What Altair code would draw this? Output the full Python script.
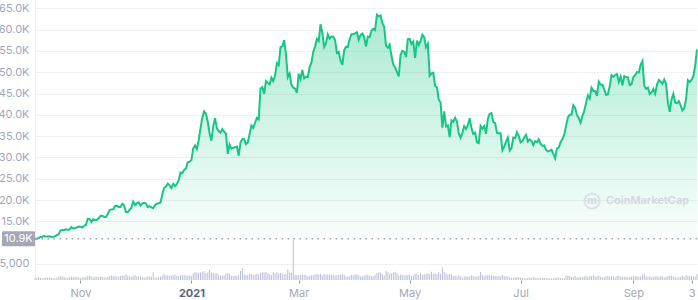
import altair as alt
import pandas as pd

# ---------------- data (daily, starting 2020-10-07) ----------------
start_date = "2020-10-07"

price_oct20 = [10900, 10930, 11060, 11300, 11380, 11560, 11430, 11430, 11500, 11320,
               11360, 11480, 11740, 11920, 12820, 12970, 12930, 13110, 13030, 13080,
               13650, 13270, 13440, 13550, 13780]
price_nov20 = [13740, 13550, 13950, 14130, 15580, 15570, 14830, 15480, 15330, 15290,
               15700, 16280, 16320, 16070, 15960, 16720, 17650, 17800, 17820, 18620,
               18640, 18370, 18360, 19110, 18730, 17150, 17110, 17720, 18180, 19630]
price_dec20 = [18800, 19200, 19450, 18700, 19150, 19350, 19190, 18320, 18550, 18260,
               18060, 18800, 19140, 19250, 19420, 21310, 22810, 23140, 23870, 23480,
               22800, 23780, 23240, 23740, 24660, 26440, 26270, 27080, 27360, 28840, 29000]
price_jan21 = [29370, 32130, 32780, 31970, 33990, 36820, 39370, 40800, 40250, 38360,
               35570, 33920, 37320, 39190, 36830, 36180, 35790, 36630, 36070, 35550,
               30830, 33010, 32070, 32290, 32370, 32570, 30430, 33470, 34320, 34270, 33110]
price_feb21 = [33520, 35510, 37470, 36930, 38140, 39270, 38900, 46200, 46480, 44920,
               47910, 47500, 47110, 48720, 47940, 49200, 52150, 51680, 55890, 56100,
               57540, 54210, 48820, 49710, 47090, 46340, 46190, 45140]
price_mar21 = [49630, 48380, 50540, 48560, 48930, 48910, 51210, 52250, 54820, 56010,
               57810, 57330, 61240, 59300, 55910, 56800, 58870, 57860, 58350, 58310,
               57520, 54530, 54740, 52770, 51700, 55140, 55970, 55950, 57750, 58920, 58920]
price_apr21 = [59100, 59380, 57600, 58760, 59060, 58190, 56050, 58320, 58250, 59790,
               60200, 59890, 63500, 63110, 63310, 61570, 60680, 56220, 55720, 56470,
               53910, 51760, 51090, 50050, 49000, 54020, 55030, 54820, 53560, 57750]
price_may21 = [57830, 56630, 57200, 53330, 57420, 56400, 57360, 58800, 58230, 55860,
               56700, 49150, 49720, 49880, 46760, 46460, 43540, 42910, 37000, 40780,
               37300, 37540, 34770, 38710, 38400, 39290, 38440, 35700, 34620, 35680, 37330]
price_jun21 = [36690, 37580, 39190, 36830, 35510, 35800, 33550, 33380, 37390, 36700,
               37340, 35550, 39100, 40220, 40410, 38350, 38050, 35790, 35620, 35700,
               31680, 32510, 33720, 34660, 31640, 32190, 34650, 34490, 35910, 35050]
price_jul21 = [33510, 33820, 34670, 35290, 33690, 34220, 33860, 32880, 33800, 33520,
               34240, 33160, 32700, 32820, 31780, 31420, 31530, 31800, 30820, 29810,
               32110, 32310, 33580, 34290, 35350, 37340, 39410, 40000, 40010, 42240, 41630]
price_aug21 = [39970, 39200, 38150, 39750, 40870, 42820, 44560, 43800, 46370, 45590,
               45590, 44430, 47790, 47100, 47050, 46000, 44700, 44800, 46720, 49340,
               48910, 49320, 49550, 47710, 48960, 46940, 49060, 48900, 48810, 46990, 47170]
price_sep21 = [48850, 49330, 50030, 49940, 51750, 52630, 46810, 46090, 46390, 44880,
               45200, 46060, 44960, 47090, 48180, 47780, 47270, 48280, 47260, 42840,
               40690, 43580, 44900, 42840, 42720, 43210, 42240, 41030, 41560, 43790]
price_oct21 = [48120, 47710, 48200, 49110, 51520, 55360]

# volume, billions USD
vol_oct20 = [21, 24, 26, 23, 17, 22, 25, 24, 23, 21, 16, 17, 24, 28, 38, 35, 30, 23, 21, 28,
             35, 31, 31, 31, 26]
vol_nov20 = [20, 27, 30, 32, 40, 44, 37, 29, 34, 32, 30, 35, 32, 26, 25, 30, 40, 46, 38, 42,
             34, 35, 38, 45, 44, 57, 43, 34, 32, 47]
vol_dec20 = [50, 38, 35, 36, 28, 24, 27, 32, 34, 33, 78, 23, 26, 29, 35, 46, 61, 47, 45, 41,
             47, 46, 55, 42, 40, 47, 48, 49, 44, 46, 44]
vol_jan21 = [40, 67, 78, 74, 72, 75, 84, 88, 67, 76, 104, 74, 70, 63, 68, 52, 43, 48, 45, 63,
             68, 60, 42, 38, 44, 42, 50, 92, 117, 56, 50]
vol_feb21 = [48, 62, 61, 52, 56, 62, 53, 72, 81, 75, 80, 67, 56, 50, 77, 64, 80, 68, 70, 64,
             57, 62, 104, 74, 72, 400, 53, 49]
vol_mar21 = [51, 47, 53, 52, 50, 37, 42, 47, 47, 56, 60, 55, 61, 48, 61, 54, 55, 54, 50, 49,
             45, 48, 55, 51, 59, 52, 37, 33, 41, 51, 46]
vol_apr21 = [55, 56, 47, 33, 39, 43, 54, 51, 44, 39, 38, 51, 71, 76, 75, 60, 45, 91, 78, 59,
             65, 74, 83, 71, 46, 56, 49, 45, 49, 52]
vol_may21 = [50, 39, 44, 62, 61, 50, 69, 52, 56, 64, 66, 60, 83, 63, 64, 60, 79, 62, 126, 80,
             66, 52, 61, 56, 41, 44, 36, 48, 38, 24, 36]
vol_jun21 = [40, 33, 38, 46, 42, 30, 37, 43, 81, 53, 36, 51, 43, 50, 46, 44, 43, 37, 40, 36,
             52, 39, 39, 35, 28, 21, 22, 25, 30, 30]
vol_jul21 = [24, 19, 17, 15, 21, 25, 21, 32, 23, 20, 18, 18, 21, 23, 21, 19, 15, 15, 16, 20,
             28, 21, 18, 16, 18, 45, 41, 42, 31, 31, 40]
vol_aug21 = [26, 28, 30, 28, 34, 44, 31, 36, 42, 50, 36, 35, 42, 31, 27, 32, 39, 39, 34, 39,
             38, 25, 40, 43, 33, 32, 32, 32, 27, 31, 32]
vol_sep21 = [39, 39, 40, 33, 36, 53, 65, 38, 29, 37, 27, 29, 37, 37, 31, 35, 36, 26, 29, 41,
             44, 44, 36, 31, 25, 31, 30, 43, 33, 48]
vol_oct21 = [42, 43, 40, 37, 34, 59]

baseline_value = 10900
baseline_label = "10.9K"
y_tick_values = [5000, 15000, 20000, 25000, 30000, 35000, 40000, 45000,
                 50000, 55000, 60000, 65000]
x_tick_dates = [(2020, 11, 1), (2021, 1, 1), (2021, 3, 1), (2021, 5, 1),
                (2021, 7, 1), (2021, 9, 1), (2021, 10, 3)]
watermark_text = "CoinMarketCap"

# ---------------- table ----------------
price = (price_oct20 + price_nov20 + price_dec20 + price_jan21 + price_feb21 + price_mar21 +
         price_apr21 + price_may21 + price_jun21 + price_jul21 + price_aug21 + price_sep21 +
         price_oct21)
volume = (vol_oct20 + vol_nov20 + vol_dec20 + vol_jan21 + vol_feb21 + vol_mar21 + vol_apr21 +
          vol_may21 + vol_jun21 + vol_jul21 + vol_aug21 + vol_sep21 + vol_oct21)
dates = pd.date_range(start_date, periods=len(price), freq="D").strftime("%Y-%m-%d")
df = pd.DataFrame({"date": dates, "price": price, "volume": volume})
base_df = pd.DataFrame({"v": [baseline_value], "lbl": [baseline_label]})

GREEN = "#16c784"
GRAY_TXT = "#a1a7b8"

x_scale = alt.Scale(
    type="utc",
    domain=[alt.DateTime(year=2020, month=10, date=7, utc=True),
            alt.DateTime(year=2021, month=10, date=6, utc=True)],
    nice=False,
)
y_scale = alt.Scale(domain=[1220, 66950], nice=False, zero=False)

x_axis = alt.Axis(
    values=[alt.DateTime(year=y, month=m, date=d, utc=True) for (y, m, d) in x_tick_dates],
    labelExpr="utcFormat(datum.value, '%m') == '01' ? utcFormat(datum.value, '%Y') : "
              "(utcFormat(datum.value, '%d') == '03' ? '3' : utcFormat(datum.value, '%b'))",
    labelFontWeight={"condition": {"test": "utcFormat(datum.value, '%m') == '01'", "value": "bold"},
                     "value": "normal"},
    labelColor={"condition": {"test": "utcFormat(datum.value, '%m') == '01'", "value": "#58667e"},
                "value": GRAY_TXT},
    grid=False, domain=False, ticks=True, tickSize=3, tickColor="#8f97a8",
    labelPadding=4, labelFontSize=11, labelOverlap=False, title=None,
)

y_axis = alt.Axis(
    values=y_tick_values,
    labelExpr="datum.value >= 10000 ? format(datum.value / 1000, '.1f') + 'K' : format(datum.value, ',')",
    grid=True, gridColor="#eef0f3", gridWidth=1,
    domain=True, domainColor="#eef0f3",
    ticks=False, labelPadding=6, labelFontSize=11, labelColor=GRAY_TXT,
    labelOverlap=False, title=None,
)

X = alt.X("date:T", scale=x_scale, axis=x_axis)
Yp = alt.Y("price:Q", scale=y_scale, axis=y_axis)
Yv = alt.Y("v:Q", scale=y_scale, axis=y_axis)

vol_layer = alt.Chart(df).mark_rule(color="#b9c0d6", strokeWidth=1).encode(
    x=X,
    y=alt.Y("volume:Q", scale=alt.Scale(domain=[0, 2800], nice=False), axis=None),
    y2=alt.datum(0),
)

area = alt.Chart(df).mark_area(
    opacity=1,
    color=alt.Gradient(
        gradient="linear",
        stops=[alt.GradientStop(color="rgba(22,199,132,0.36)", offset=0),
               alt.GradientStop(color="rgba(22,199,132,0.02)", offset=1)],
        x1=1, x2=1, y1=0, y2=1,
    ),
).encode(x=X, y=Yp, y2=alt.datum(baseline_value))

line = alt.Chart(df).mark_line(color=GREEN, strokeWidth=2).encode(x=X, y=Yp)

base_rule = alt.Chart(base_df).mark_rule(
    color="#9ea4b2", strokeWidth=1.5, strokeDash=[1.5, 4.5]
).encode(y=Yv)

base_box = alt.Chart(base_df).mark_rect(
    color="#a3a8b4", yOffset=-7.5, y2Offset=7.5, cornerRadius=1
).encode(
    x=alt.value(-33), x2=alt.value(0),
    y=Yv, y2=alt.Y2("v:Q"),
)

base_text = alt.Chart(base_df).mark_text(
    color="white", fontSize=11, align="center", baseline="middle"
).encode(x=alt.value(-16.5), y=Yv, text="lbl:N")

price_layers = alt.layer(area, line, base_rule, base_box, base_text)

wm_circle = alt.Chart(base_df).mark_point(
    shape="circle", filled=False, color="#d3d6e0", strokeWidth=2, size=230
).encode(x=alt.value(557), y=alt.value(201))

wm_glyph = alt.Chart(base_df).mark_text(
    text="m", color="#d3d6e0", fontSize=11, fontWeight="bold",
    align="center", baseline="middle"
).encode(x=alt.value(557), y=alt.value(201))

wm_text = alt.Chart(base_df).mark_text(
    text=watermark_text, color="#d3d6e0", fontSize=11, fontWeight=600,
    align="left", baseline="middle"
).encode(x=alt.value(571), y=alt.value(201))

chart = alt.layer(vol_layer, price_layers, wm_circle, wm_glyph, wm_text).resolve_scale(
    y="independent"
).properties(
    width=662, height=280,
    padding={"left": 35, "top": 0, "right": 1, "bottom": 20},
    autosize=alt.AutoSizeParams(type="none"),
).configure_view(stroke=None).configure_axis(
    labelFont="Inter"
).configure_text(font="Inter")

chart.save("out.html", embed_options={"renderer": "svg", "actions": False})
